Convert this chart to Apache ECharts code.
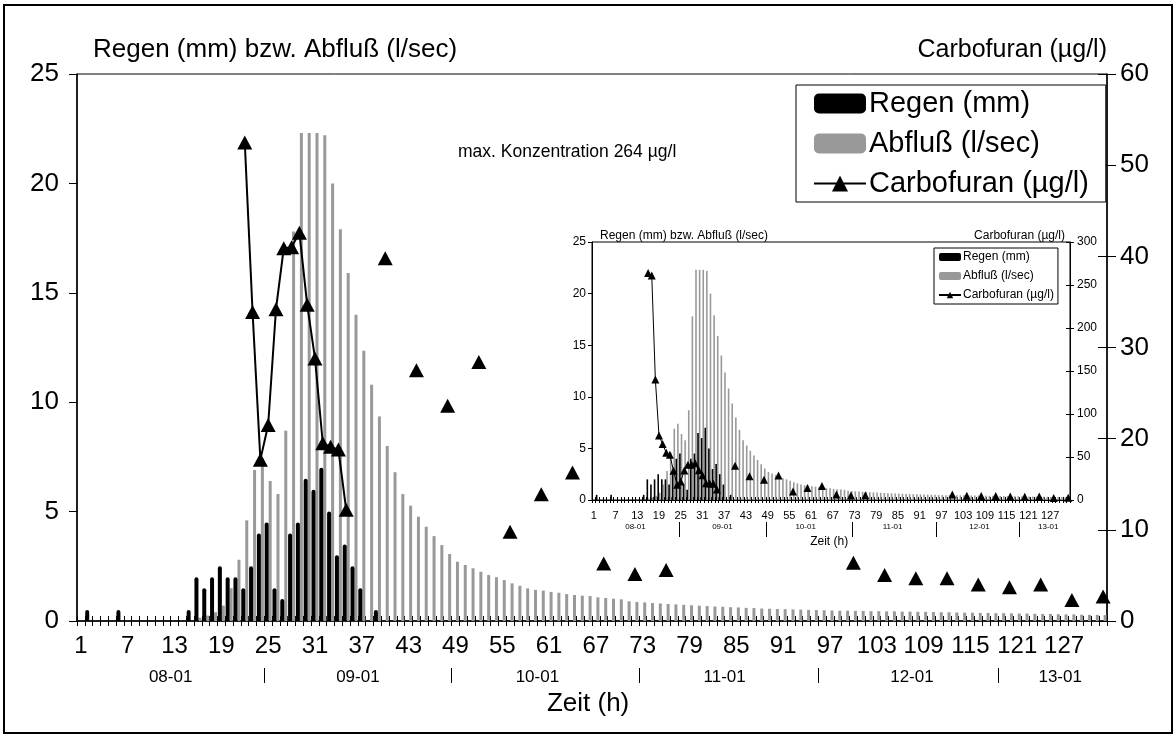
<!DOCTYPE html>
<html>
<head>
<meta charset="utf-8">
<script src="https://cdn.jsdelivr.net/npm/echarts@6/dist/echarts.min.js"></script>
<style>
  html, body { margin: 0; padding: 0; background: #fff; }
  #chart { width: 1176px; height: 737px; }
</style>
</head>
<body>
<div id="chart"></div>
<script>
// Hourly time axis (h)
const hours = Array.from({ length: 132 }, (_, i) => String(i + 1));

// Rain (mm) — only the hours with rain
const regenHours  = [2, 6, 15, 16, 17, 18, 19, 20, 21, 22, 23, 24, 25, 26, 27, 28, 29, 30, 31, 32, 33, 34, 35, 36, 37, 39];
const regenValues = [0.5, 0.5, 0.5, 2.0, 1.5, 2.0, 2.5, 2.0, 2.0, 1.5, 2.5, 4.0, 4.5, 1.5, 1.0, 4.0, 4.5, 6.5, 6.0, 7.0, 5.0, 3.0, 3.5, 2.5, 1.5, 0.5];

// Runoff (l/sec), one value per hour 1..132
const abfluss = [
  0, 0, 0, 0, 0, 0, 0, 0, 0, 0, 0, 0, 0, 0, 0, 0.15, 0.25, 0.4, 0.7, 1.5,
  2.8, 4.6, 6.9, 7.4, 6.4, 5.8, 8.7, 17.8, 22.3, 22.3, 22.3, 22.2, 20.0, 17.9, 15.9, 14.0, 12.35, 10.8, 9.35, 8.0,
  6.8, 5.8, 5.27, 4.77, 4.31, 3.88, 3.47, 3.06, 2.71, 2.56, 2.41, 2.25, 2.1, 2.0, 1.87, 1.72, 1.61, 1.49, 1.42, 1.39,
  1.33, 1.29, 1.23, 1.19, 1.16, 1.14, 1.08, 1.05, 1.02, 0.99, 0.90, 0.87, 0.85, 0.82, 0.80, 0.78, 0.76, 0.74, 0.72, 0.70,
  0.68, 0.66, 0.65, 0.63, 0.62, 0.60, 0.59, 0.57, 0.56, 0.55, 0.54, 0.53, 0.52, 0.51, 0.50, 0.49, 0.48, 0.47, 0.47, 0.46,
  0.46, 0.45, 0.45, 0.44, 0.44, 0.43, 0.43, 0.42, 0.42, 0.41, 0.40, 0.40, 0.39, 0.38, 0.38, 0.37, 0.37, 0.36, 0.36, 0.35,
  0.34, 0.34, 0.33, 0.32, 0.32, 0.31, 0.30, 0.30, 0.29, 0.28, 0.28, 0.27
];

// Carbofuran (µg/l) samples
const carbofuranHours  = [22, 23, 24, 25, 26, 27, 28, 29, 30, 31, 32, 33, 34, 35, 40, 44, 48, 52, 56, 60, 64, 68, 72, 76, 100, 104, 108, 112, 116, 120, 124, 128, 132];
const carbofuranValues = [52.5, 33.9, 17.7, 21.5, 34.2, 40.9, 41.0, 42.6, 34.7, 28.8, 19.5, 19.1, 18.8, 12.2, 39.8, 27.5, 23.6, 28.4, 9.8, 13.9, 16.3, 6.3, 5.15, 5.6, 6.4, 5.05, 4.7, 4.7, 4.0, 3.7, 4.0, 2.3, 2.7];
// First flush, only on the full-scale overview (0–300 µg/l)
const peakHours  = [16, 17, 18, 19, 20, 21];
const peakValues = [264, 261, 140, 75, 65, 55];

// Day groups on the time axis: boundaries (in hours elapsed) and label anchors
const dayBoundaries = [24, 48, 72, 95, 118];
const dayLabelAnchors = [12, 36, 59, 83, 107, 126];
const dayLabels = ['08-01', '09-01', '10-01', '11-01', '12-01', '13-01'];

const N = hours.length;
function perHour(hrs, vals) {
  const a = new Array(N).fill(null);
  hrs.forEach((h, i) => { a[h - 1] = vals[i]; });
  return a;
}
const regen = perHour(regenHours, regenValues);
const carbMain = perHour(carbofuranHours, carbofuranValues);
const carbFull = perHour(peakHours.concat(carbofuranHours), peakValues.concat(carbofuranValues));

// Boundary axis: one slot per hour boundary 0..N-1, used for day separators
const boundaries = Array.from({ length: N }, (_, i) => String(i));
const splitSet = new Set(dayBoundaries);
const anchorText = {};
dayLabelAnchors.forEach((b, i) => { anchorText[b] = dayLabels[i]; });

const FONT = '"Liberation Sans", Arial, sans-serif';
const BLACK = '#000';
const GRAY = '#999999';

const MAIN = { left: 77, top: 74, width: 1030, height: 547 };
const INSET = { left: 592, top: 242, width: 478, height: 258 };

function hourAxis(grid, o) {
  return Object.assign({
    type: 'category', gridIndex: grid, data: hours, position: 'bottom', boundaryGap: true,
    axisLine: { show: false, onZero: false },
    axisTick: { show: false }, axisLabel: { show: false },
    splitLine: { show: false }
  }, o);
}

function buildAxesX(grid, dayGrid, s) {
  return [
    hourAxis(grid, {
      axisLine: { show: true, onZero: false, lineStyle: { color: BLACK, width: s.lw } },
      axisTick: { show: true, interval: 0, length: s.tick, lineStyle: { color: BLACK, width: 1 } },
      axisLabel: {
        show: true, interval: i => i % 6 === 0, color: BLACK, fontFamily: FONT,
        fontSize: s.tickFont, margin: s.labelMargin
      }
    }),
    hourAxis(grid, {
      axisTick: { show: true, inside: true, interval: 0, length: s.tick, lineStyle: { color: BLACK, width: 1 } }
    }),
    {
      type: 'category', gridIndex: dayGrid, data: boundaries, position: 'bottom', boundaryGap: true,
      offset: s.dayOffset,
      axisLine: { show: false, onZero: false },
      axisTick: { show: true, alignWithLabel: true, interval: i => splitSet.has(i), length: s.dayTick, lineStyle: { color: BLACK, width: 1 } },
      axisLabel: {
        show: true, interval: 0, formatter: (v, i) => anchorText[i] || '',
        color: BLACK, fontFamily: FONT, fontSize: s.dayFont, margin: s.dayMargin
      },
      splitLine: { show: false },
      name: 'Zeit (h)', nameLocation: 'middle', nameGap: s.nameGap,
      nameTextStyle: { color: BLACK, fontFamily: FONT, fontSize: s.nameFont }
    }
  ];
}

function buildAxesY(grid, dayGrid, s) {
  return [
    {
      type: 'value', gridIndex: grid, position: 'left', min: 0, max: 25, interval: 5,
      axisLine: { show: true, lineStyle: { color: BLACK, width: s.lw } },
      axisTick: { show: true, length: s.ytick, lineStyle: { color: BLACK } },
      axisLabel: { color: BLACK, fontFamily: FONT, fontSize: s.yFont, margin: s.yMargin },
      splitLine: { show: false }
    },
    {
      type: 'value', gridIndex: grid, position: 'right', min: 0, max: s.rMax, interval: s.rInt,
      axisLine: { show: true, lineStyle: { color: BLACK, width: s.lw } },
      axisTick: { show: true, length: s.rtick, lineStyle: { color: BLACK } },
      axisLabel: { color: BLACK, fontFamily: FONT, fontSize: s.rFont, margin: s.rMargin },
      splitLine: { show: false }
    },
    {
      type: 'value', gridIndex: grid, position: 'right', min: 0, max: s.rMax, interval: s.rInt,
      axisLine: { show: false },
      axisTick: { show: true, inside: true, length: s.rtick, lineStyle: { color: BLACK } },
      axisLabel: { show: false }, splitLine: { show: false }
    },
    {
      type: 'value', gridIndex: dayGrid, show: false, min: 0, max: 1
    }
  ];
}

const mainStyle = {
  lw: 1.5, tick: 5, tickFont: 24, labelMargin: 13,
  dayOffset: 47, dayTick: 15, dayFont: 17, dayMargin: 1, nameGap: 22, nameFont: 26,
  ytick: 8, yFont: 26, yMargin: 18, rMax: 60, rInt: 10, rtick: 9, rFont: 26, rMargin: 13
};
const insetStyle = {
  lw: 1, tick: 3, tickFont: 11, labelMargin: 10,
  dayOffset: 22, dayTick: 15, dayFont: 8, dayMargin: 1, nameGap: 14, nameFont: 12,
  ytick: 4, yFont: 12, yMargin: 6, rMax: 300, rInt: 50, rtick: 4, rFont: 12, rMargin: 7
};

// Day-separator grids are shifted half an hour left so that ticks fall on hour boundaries
function dayGridOf(g) {
  const half = g.width / N / 2;
  return { left: g.left - half, top: g.top, width: g.width, height: g.height, show: false };
}

const xAxes = buildAxesX(0, 2, mainStyle).concat(buildAxesX(1, 3, insetStyle));
const yAxes = buildAxesY(0, 2, mainStyle).concat(buildAxesY(1, 3, insetStyle));

function chartSeries(xi, yi, s, carb) {
  return [
    {
      name: 'Regen (mm)', type: 'bar', xAxisIndex: xi, yAxisIndex: yi,
      data: regen, barWidth: s.bw, barGap: s.gap,
      itemStyle: { color: BLACK, borderRadius: s.radius }, z: 3
    },
    {
      name: 'Abfluß (l/sec)', type: 'bar', xAxisIndex: xi, yAxisIndex: yi,
      data: abfluss, barWidth: s.bw2, barGap: s.gap,
      itemStyle: { color: GRAY }, z: 2
    },
    {
      name: 'Carbofuran (µg/l)', type: 'line', xAxisIndex: xi, yAxisIndex: yi + 1,
      data: carb, connectNulls: false, showAllSymbol: true,
      symbol: 'triangle', symbolSize: s.sym,
      lineStyle: { color: BLACK, width: s.line }, itemStyle: { color: BLACK },
      z: 5
    }
  ];
}

const textStyle = (size) => ({ fontFamily: FONT, fontSize: size, fontWeight: 'normal', color: BLACK });

const option = {
  animation: false,
  backgroundColor: '#fff',
  textStyle: { fontFamily: FONT },
  grid: [
    Object.assign({ show: true, borderColor: BLACK, borderWidth: 1, backgroundColor: 'transparent' }, MAIN),
    Object.assign({ show: true, borderColor: BLACK, borderWidth: 1, backgroundColor: 'transparent' }, INSET),
    dayGridOf(MAIN),
    dayGridOf(INSET)
  ],
  xAxis: xAxes,
  yAxis: yAxes,
  title: [
    { text: 'Regen (mm) bzw. Abfluß (l/sec)', left: 88, top: 32, textStyle: textStyle(26) },
    { text: 'Carbofuran (µg/l)', right: 64, top: 33, textStyle: textStyle(25) },
    { text: 'max. Konzentration 264 µg/l', left: 453, top: 138, textStyle: textStyle(17.5) },
    { text: 'Regen (mm) bzw. Abfluß (l/sec)', left: 595, top: 225, textStyle: textStyle(12) },
    { text: 'Carbofuran (µg/l)', right: 106, top: 225, textStyle: textStyle(12) }
  ],
  legend: [
    {
      orient: 'vertical', left: 796, top: 85,
      padding: [4, 17, 4, 17], itemGap: 11, itemWidth: 52, itemHeight: 20,
      borderColor: BLACK, borderWidth: 1, backgroundColor: '#fff',
      textStyle: { fontFamily: FONT, fontSize: 29, color: BLACK, padding: [0, 0, 0, -2] },
      data: ['Regen (mm)', 'Abfluß (l/sec)', 'Carbofuran (µg/l)']
    },
    {
      orient: 'vertical', left: 934, top: 248,
      padding: [3, 4, 3, 4], itemGap: 7, itemWidth: 22, itemHeight: 8,
      borderColor: BLACK, borderWidth: 1, backgroundColor: '#fff',
      textStyle: { fontFamily: FONT, fontSize: 12, color: BLACK, padding: [0, 0, 0, -3] },
      data: ['Regen (mm)', 'Abfluß (l/sec)', 'Carbofuran (µg/l)']
    }
  ],
  graphic: [
    { type: 'rect', shape: { x: 4, y: 5, width: 1168, height: 728 }, style: { fill: 'none', stroke: BLACK, lineWidth: 2 }, silent: true }
  ],
  series: chartSeries(0, 0, { bw: 4, bw2: 3, gap: '0%', radius: [2, 2, 0, 0], sym: [15, 14], line: 2 }, carbMain)
    .concat(chartSeries(3, 4, { bw: 1.6, bw2: 1.6, gap: '0%', radius: 0, sym: [8, 8], line: 1 }, carbFull))
};

const chart = echarts.init(document.getElementById('chart'), null, { renderer: 'canvas' });
chart.setOption(option);
</script>
</body>
</html>
